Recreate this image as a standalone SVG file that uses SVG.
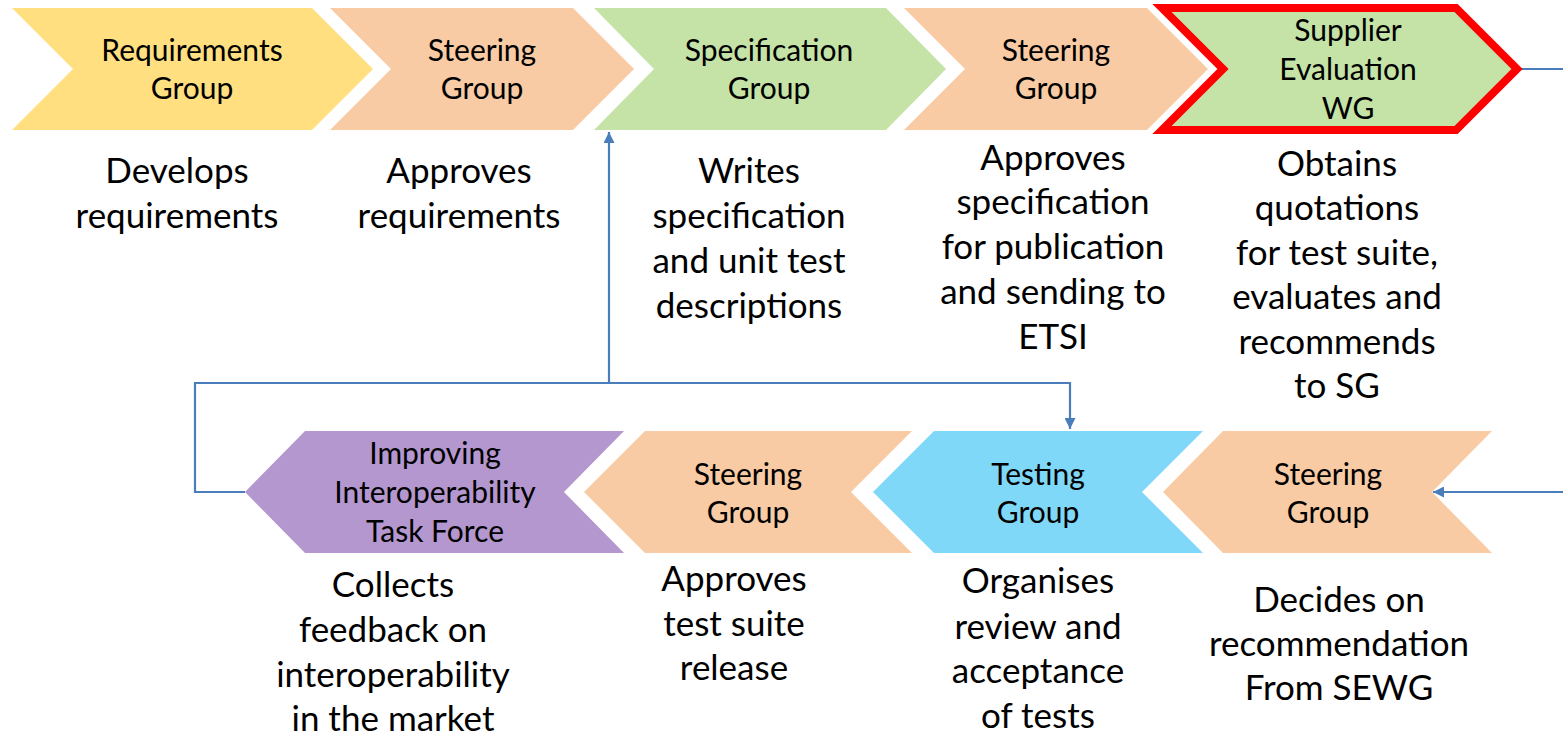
<svg xmlns="http://www.w3.org/2000/svg" width="1563" height="735" viewBox="0 0 1563 735">
<style>
.lbl{font-family:Lato,"Open Sans","Liberation Sans",sans-serif;font-size:30px;fill:#000;text-anchor:middle}
.dsc{font-family:Lato,"Open Sans","Liberation Sans",sans-serif;font-size:35px;fill:#000;text-anchor:middle}
.conn{fill:none;stroke:#4A7EBB;stroke-width:2.2}
.yel{fill:#FFDF80}
.org{fill:#F8CBA4}
.grn{fill:#C5E3A6}
.blu{fill:#80D8F8}
.pur{fill:#B497CF}
</style>
<defs>
<marker id="ah" viewBox="0 0 10 10" refX="10" refY="5" markerWidth="6" markerHeight="5" orient="auto" markerUnits="strokeWidth">
<path d="M0,0 L10,5 L0,10 z" fill="#4A7EBB"/>
</marker>
</defs>
<g id="connectors">
<polyline class="conn" points="245,492 195,492 195,383 1070,383 1070,429" marker-end="url(#ah)"/>
<line class="conn" x1="609" y1="383" x2="609" y2="132" marker-end="url(#ah)"/>
<line class="conn" x1="1520" y1="69" x2="1563" y2="69"/>
<line class="conn" x1="1563" y1="492" x2="1433" y2="492" marker-end="url(#ah)"/>
</g>
<g id="req-group">
<polygon class="yel" points="12,8 312,8 373,69 312,130 12,130 73,69"/>
<text class="lbl"><tspan x="192" y="61">Requirements</tspan><tspan x="192" y="99">Group</tspan></text>
<text class="dsc"><tspan x="177" y="183">Develops</tspan><tspan x="177" y="228">requirements</tspan></text>
</g>
<g id="steer-1">
<polygon class="org" points="330,8 573,8 634,69 573,130 330,130 391,69"/>
<text class="lbl"><tspan x="482" y="61">Steering</tspan><tspan x="482" y="99">Group</tspan></text>
<text class="dsc"><tspan x="459" y="183">Approves</tspan><tspan x="459" y="228">requirements</tspan></text>
</g>
<g id="spec-group">
<polygon class="grn" points="594,8 886,8 946,69 886,130 594,130 654,69"/>
<text class="lbl"><tspan x="769" y="61">Specification</tspan><tspan x="769" y="99">Group</tspan></text>
<text class="dsc"><tspan x="749" y="183">Writes</tspan><tspan x="749" y="228">specification</tspan><tspan x="749" y="273">and unit test</tspan><tspan x="749" y="318">descriptions</tspan></text>
</g>
<g id="steer-2">
<polygon class="org" points="904,8 1147,8 1208,69 1147,130 904,130 965,69"/>
<text class="lbl"><tspan x="1056" y="61">Steering</tspan><tspan x="1056" y="99">Group</tspan></text>
<text class="dsc"><tspan x="1053" y="170">Approves</tspan><tspan x="1053" y="214">specification</tspan><tspan x="1053" y="259">for publication</tspan><tspan x="1053" y="304">and sending to</tspan><tspan x="1053" y="349">ETSI</tspan></text>
</g>
<g id="sewg">
<polygon class="grn" points="1162,8 1456,8 1517,69 1456,130 1162,130 1223,69" stroke="#FF0000" stroke-width="8"/>
<text class="lbl"><tspan x="1348" y="41">Supplier</tspan><tspan x="1348" y="80">Evaluation</tspan><tspan x="1348" y="119">WG</tspan></text>
<text class="dsc"><tspan x="1337" y="176">Obtains</tspan><tspan x="1337" y="220">quotations</tspan><tspan x="1337" y="265">for test suite,</tspan><tspan x="1337" y="309">evaluates and</tspan><tspan x="1337" y="354">recommends</tspan><tspan x="1337" y="398">to SG</tspan></text>
</g>
<g id="steer-3">
<polygon class="org" points="1163,492 1223,431 1492,431 1432,492 1492,553 1223,553"/>
<text class="lbl"><tspan x="1328" y="485">Steering</tspan><tspan x="1328" y="523">Group</tspan></text>
<text class="dsc"><tspan x="1339" y="612">Decides on</tspan><tspan x="1339" y="656">recommendation</tspan><tspan x="1339" y="700">From SEWG</tspan></text>
</g>
<g id="testing-group">
<polygon class="blu" points="873,492 934,431 1203,431 1142,492 1203,553 934,553"/>
<text class="lbl"><tspan x="1038" y="485">Testing</tspan><tspan x="1038" y="523">Group</tspan></text>
<text class="dsc"><tspan x="1038" y="593">Organises</tspan><tspan x="1038" y="639">review and</tspan><tspan x="1038" y="683">acceptance</tspan><tspan x="1038" y="728">of tests</tspan></text>
</g>
<g id="steer-4">
<polygon class="org" points="584,492 645,431 912,431 851,492 912,553 645,553"/>
<text class="lbl"><tspan x="748" y="485">Steering</tspan><tspan x="748" y="523">Group</tspan></text>
<text class="dsc"><tspan x="734" y="591">Approves</tspan><tspan x="734" y="636">test suite</tspan><tspan x="734" y="680">release</tspan></text>
</g>
<g id="iitf">
<polygon class="pur" points="245,492 305,431 624,431 564,492 624,553 305,553"/>
<text class="lbl"><tspan x="435" y="464">Improving</tspan><tspan x="435" y="503">Interoperability</tspan><tspan x="435" y="542">Task Force</tspan></text>
<text class="dsc"><tspan x="393" y="597">Collects</tspan><tspan x="393" y="642">feedback on</tspan><tspan x="393" y="687">interoperability</tspan><tspan x="393" y="731">in the market</tspan></text>
</g>
</svg>
